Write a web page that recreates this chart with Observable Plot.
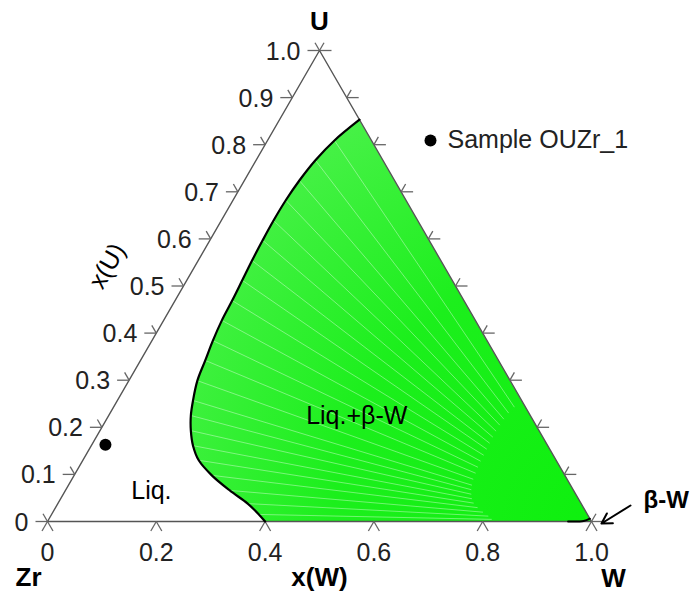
<!DOCTYPE html>
<html>
<head>
<meta charset="utf-8">
<script src="https://cdn.jsdelivr.net/npm/d3@7"></script>
<script src="https://cdn.jsdelivr.net/npm/@observablehq/plot@0.6"></script>
<style>
  body { margin: 0; background: #fff; }
  #chart { width: 693px; height: 598px; }
</style>
</head>
<body>
<div id="chart"></div>
<script>
// ---- data (mole fractions) ----
const liquidusXW = [0.147,0.123,0.109,0.101,0.097,0.096,0.097,0.099,0.102,0.105,0.107,0.112,0.119,0.126,0.139,0.151,0.167,0.187,0.213,0.253,0.302,0.349,0.381,0.400];
const liquidusXU = [0.853,0.809,0.767,0.724,0.682,0.639,0.597,0.554,0.512,0.469,0.427,0.384,0.342,0.299,0.257,0.225,0.193,0.161,0.130,0.098,0.066,0.038,0.015,0.000];
const betaWXW = [0.957, 0.985, 0.994];
const betaWXU = [0.000, 0.001, 0.006];
const sampleName = "Sample OUZr_1";
const sampleXW = [0.025];
const sampleXU = [0.163];
const uTickValues = [0,0.1,0.2,0.3,0.4,0.5,0.6,0.7,0.8,0.9,1.0];
const uTickLabels = ["0","0.1","0.2","0.3","0.4","0.5","0.6","0.7","0.8","0.9","1.0"];
const wTickValues = [0,0.2,0.4,0.6,0.8,1.0];
const wTickLabels = ["0","0.2","0.4","0.6","0.8","1.0"];
const componentNames = ["Zr","W","U"];
const axisTitles = ["x(W)","x(U)"];
const regionLabels = ["Liq.","Liq.+β-W","β-W"];

// ---- ternary -> cartesian ----
const S = Math.sqrt(3) / 2;
const toX = (w, u) => w + u / 2;
const toY = (u) => u * S;
const PX = 544; // pixels per unit (for tick arm lengths)

const liquidus = liquidusXW.map((w, i) => ({X: toX(w, liquidusXU[i]), Y: toY(liquidusXU[i])}));
const vertW = {X: toX(1, 0), Y: toY(0)};
const vertZr = {X: toX(0, 0), Y: toY(0)};
const vertU = {X: toX(0, 1), Y: toY(1)};
const region = [...liquidus, vertW];
const tieLines = liquidus.map(p => ({x1: p.X, y1: p.Y, x2: p.X + 0.7 * (vertW.X - p.X), y2: p.Y + 0.7 * (vertW.Y - p.Y)}));
const betaW = betaWXW.map((w, i) => ({X: toX(w, betaWXU[i]), Y: toY(betaWXU[i])}));
const samples = sampleXW.map((w, i) => ({X: toX(w, sampleXU[i]), Y: toY(sampleXU[i])}));
const edges = [vertZr, vertW, vertU, vertZr];

const hArm = 12 / PX, dArm = 9 / PX, bArm = 11 / PX;
const ticks = [];
uTickValues.forEach(t => {
  // left edge (x(U))
  const lx = toX(0, t), ly = toY(t);
  ticks.push({x1: lx, y1: ly, x2: lx - hArm, y2: ly});
  ticks.push({x1: lx, y1: ly, x2: lx - 0.5 * dArm, y2: ly + S * dArm});
  // right edge
  const rx = toX(1 - t, t), ry = toY(t);
  ticks.push({x1: rx, y1: ry, x2: rx + hArm, y2: ry});
  ticks.push({x1: rx, y1: ry, x2: rx + 0.5 * dArm, y2: ry + S * dArm});
});
wTickValues.forEach(t => {
  const bx = toX(t, 0), by = toY(0);
  ticks.push({x1: bx, y1: by, x2: bx - 0.5 * bArm, y2: by - S * bArm});
  ticks.push({x1: bx, y1: by, x2: bx + 0.5 * bArm, y2: by - S * bArm});
});
const leftLabels = uTickValues.map((t, i) => ({X: toX(0, t), Y: toY(t), label: uTickLabels[i]}));
const bottomLabels = wTickValues.map((t, i) => ({X: toX(t, 0), Y: toY(0), label: wTickLabels[i]}));
const vertices = [vertZr, vertW, vertU].map((v, i) => ({...v, name: componentNames[i]}));

const FONT = "'Liberation Sans', Arial, Helvetica, sans-serif";

const chart = Plot.plot({
  width: 693,
  height: 598,
  marginLeft: 47,
  marginRight: 102,
  marginTop: 50,
  marginBottom: 77,
  x: {domain: [0, 1], axis: null},
  y: {domain: [0, S], axis: null},
  style: {fontFamily: FONT, background: "#fff", overflow: "visible"},
  marks: [
    Plot.line(region, {x: "X", y: "Y", fill: "url(#tieGrad)", stroke: "none"}),
    Plot.link(tieLines, {x1: "x1", y1: "y1", x2: "x2", y2: "y2", stroke: "#f4fff4", strokeWidth: 0.8, strokeOpacity: 0.5}),
    Plot.line(edges, {x: "X", y: "Y", stroke: "#555", strokeWidth: 1.4}),
    Plot.link(ticks, {x1: "x1", y1: "y1", x2: "x2", y2: "y2", stroke: "#666", strokeWidth: 1.3}),
    Plot.line(liquidus, {x: "X", y: "Y", stroke: "#000", strokeWidth: 2.2, curve: "catmull-rom"}),
    Plot.line(betaW, {x: "X", y: "Y", stroke: "#000", strokeWidth: 2, curve: "catmull-rom"}),
    Plot.dot(samples, {x: "X", y: "Y", r: 6, fill: "#000"}),
    // tick labels
    Plot.text(leftLabels, {x: "X", y: "Y", text: "label", textAnchor: "end", lineAnchor: "middle", dx: -19, dy: 1, fontSize: 25, fill: "#222"}),
    Plot.text(bottomLabels, {x: "X", y: "Y", text: "label", textAnchor: "middle", lineAnchor: "middle", dy: 31, fontSize: 25, fill: "#222"}),
    // component names
    Plot.text(vertices.filter(v => v.name === "U"), {x: "X", y: "Y", text: "name", lineAnchor: "middle", dy: -29, fontSize: 26, fontWeight: "bold"}),
    Plot.text(vertices.filter(v => v.name === "Zr"), {x: "X", y: "Y", text: "name", lineAnchor: "middle", dx: -19, dy: 56, fontSize: 26, fontWeight: "bold"}),
    Plot.text(vertices.filter(v => v.name === "W"), {x: "X", y: "Y", text: "name", lineAnchor: "middle", dx: 22, dy: 57, fontSize: 26, fontWeight: "bold"}),
    // axis titles
    Plot.text([axisTitles[0]], {x: () => toX(0.5, 0), y: () => toY(0), text: d => d, lineAnchor: "middle", dy: 56, fontSize: 26, fontWeight: "bold"}),
    Plot.text([axisTitles[1]], {x: () => toX(0, 0.5), y: () => toY(0.5), text: d => d, lineAnchor: "middle", dx: -76, dy: -20, rotate: -60, fontSize: 25}),
    // region labels
    Plot.text([regionLabels[0]], {x: () => toX(0.159, 0.064), y: () => toY(0.064), text: d => d, lineAnchor: "middle", fontSize: 25}),
    Plot.text([regionLabels[1]], {x: () => toX(0.457, 0.223), y: () => toY(0.223), text: d => d, lineAnchor: "middle", fontSize: 25}),
    Plot.text([regionLabels[2]], {x: () => vertW.X, y: () => vertW.Y, text: d => d, textAnchor: "start", lineAnchor: "middle", dx: 52, dy: -21, fontSize: 24, fontWeight: "bold"}),
    Plot.arrow([regionLabels[2]], {x1: () => vertW.X + 39 / PX, y1: () => vertW.Y + 16 / PX, x2: () => vertW.X + 10 / PX, y2: () => vertW.Y - 2 / PX, stroke: "#000", strokeWidth: 2, headLength: 11}),
    // legend
    Plot.dot([sampleName], {frameAnchor: "top-left", dx: 383, dy: 90, r: 6, fill: "#000"}),
    Plot.text([sampleName], {frameAnchor: "top-left", text: d => d, textAnchor: "start", lineAnchor: "middle", dx: 400, dy: 89, fontSize: 25, fill: "#222"})
  ]
});

// radial paint server for the tie-line region (dense near W, lighter near liquidus)
const svg = chart.tagName.toLowerCase() === "svg" ? chart : chart.querySelector("svg");
const ns = "http://www.w3.org/2000/svg";
const defs = document.createElementNS(ns, "defs");
const grad = document.createElementNS(ns, "radialGradient");
grad.setAttribute("id", "tieGrad");
grad.setAttribute("gradientUnits", "userSpaceOnUse");
const sx = chart.scale("x"), sy = chart.scale("y");
grad.setAttribute("cx", sx.apply(vertW.X));
grad.setAttribute("cy", sy.apply(vertW.Y));
grad.setAttribute("r", 470);
[["0", "#0ef00e"], ["0.55", "#1cef1c"], ["1", "#48f148"]].forEach(([o, c]) => {
  const st = document.createElementNS(ns, "stop");
  st.setAttribute("offset", o);
  st.setAttribute("stop-color", c);
  grad.appendChild(st);
});
defs.appendChild(grad);
svg.insertBefore(defs, svg.firstChild);

document.getElementById("chart").appendChild(chart);
</script>
</body>
</html>
